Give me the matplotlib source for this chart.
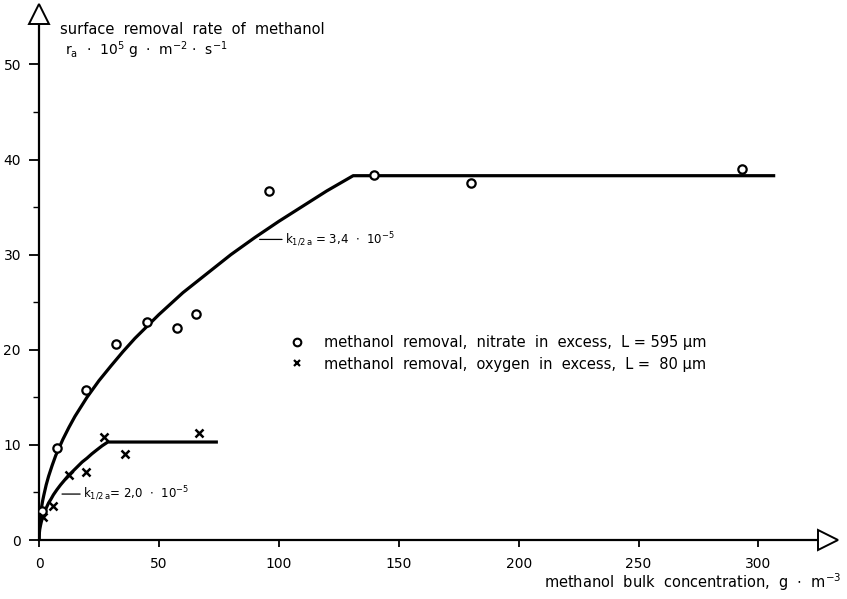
import matplotlib
matplotlib.use("Agg")
import matplotlib.pyplot as plt
from matplotlib.lines import Line2D

# measured points, nitrate in excess (circles)
circle_x = [1.3, 7.5, 19.6, 32, 45, 57.5, 65.5, 96, 139.5, 180, 293]
circle_y = [3.0, 9.7, 15.8, 20.6, 22.9, 22.3, 23.8, 36.7, 38.4, 37.5, 39.0]

# measured points, oxygen in excess (crosses)
cross_x = [1.5, 5.8, 12.7, 19.7, 27, 35.7, 66.8]
cross_y = [2.4, 3.6, 6.8, 7.2, 10.8, 9.0, 11.2]

# half-order curves
curve_a_x = [0, 0.1, 0.3, 0.6, 1, 1.5, 2, 3, 4, 5.5, 7, 8.5, 10, 12.5, 15, 17.5, 20, 25, 30, 35, 40,
             50, 60, 70, 80, 90, 100, 110, 120, 131, 307]
curve_a_y = [0, 1.05, 1.8, 2.6, 3.35, 4.1, 4.7, 5.8, 6.7, 7.85, 8.9, 9.75, 10.6, 11.85, 13.0, 14.0,
             15.0, 16.75, 18.3, 19.8, 21.2, 23.7, 26.0, 28.0, 30.0, 31.8, 33.5, 35.1, 36.7, 38.3, 38.3]
curve_b_x = [0, 0.1, 0.3, 0.6, 1, 1.5, 2, 3, 4, 5, 6, 7.5, 9, 10.5, 12, 14, 16, 18, 20, 22, 24,
             26.3, 28.7, 74.6]
curve_b_y = [0, 0.6, 1.1, 1.5, 1.95, 2.35, 2.75, 3.35, 3.9, 4.3, 4.75, 5.3, 5.8, 6.25, 6.7, 7.2,
             7.7, 8.2, 8.6, 9.05, 9.45, 9.9, 10.3, 10.3]

x_ticks = [0, 50, 100, 150, 200, 250, 300]
y_ticks = [0, 10, 20, 30, 40, 50]

plt.rcParams['font.family'] = ['DejaVu Sans']
plt.rcParams['mathtext.fontset'] = 'dejavusans'

fig = plt.figure(figsize=(8.47, 5.99), dpi=100)
ax = fig.add_axes([39 / 847, 59 / 599, 789 / 847, 526 / 599])
ax.set_xlim(0, 329)
ax.set_ylim(0, 55.3)

for s in ['top', 'right']:
    ax.spines[s].set_visible(False)
for s in ['left', 'bottom']:
    ax.spines[s].set_linewidth(1.6)

ax.set_xticks(x_ticks)
ax.set_yticks(y_ticks)
ax.set_yticks(list(range(5, 55, 10)), minor=True)
ax.tick_params(axis='y', which='major', direction='out', length=7, width=1.3, pad=6, labelsize=10)
ax.tick_params(axis='y', which='minor', direction='out', length=4, width=1.0)
ax.tick_params(axis='x', which='major', direction='out', length=5, width=1.3, pad=7, labelsize=10)

# arrow heads at the axis ends
ax.plot([0], [55.3], marker='^', ms=14, mfc='white', mec='black', mew=1.4, clip_on=False, zorder=5)
ax.plot([329], [0], marker='>', ms=14, mfc='white', mec='black', mew=1.4, clip_on=False, zorder=5)

ax.plot(curve_a_x, curve_a_y, color='black', lw=2.3, solid_capstyle='butt', solid_joinstyle='round')
ax.plot(curve_b_x, curve_b_y, color='black', lw=2.3, solid_capstyle='butt', solid_joinstyle='round')

ax.plot(circle_x, circle_y, ls='none', marker='o', ms=6, mfc='white', mec='black', mew=1.6, zorder=4)
ax.plot(cross_x, cross_y, ls='none', marker='x', ms=6, mec='black', mew=1.8, zorder=4)

ax.annotate(r'k$_{1/2\,\mathrm{a}}$ = 3,4  $\cdot$  10$^{-5}$', xy=(92, 31.6), xytext=(102.5, 31.6),
            va='center', fontsize=8.5, arrowprops=dict(arrowstyle='-', lw=0.9, shrinkA=0, shrinkB=0))
ax.annotate(r'k$_{1/2\,\mathrm{a}}$= 2,0  $\cdot$  10$^{-5}$', xy=(9.6, 4.83), xytext=(18.3, 4.83),
            va='center', fontsize=8.5, arrowprops=dict(arrowstyle='-', lw=0.9, shrinkA=0, shrinkB=0))

handles = [Line2D([], [], ls='none', marker='o', ms=5.5, mfc='white', mec='black', mew=1.5),
           Line2D([], [], ls='none', marker='x', ms=4.5, mec='black', mew=1.6)]
labels = ['methanol  removal,  nitrate  in  excess,  L = 595 \u00b5m',
          'methanol  removal,  oxygen  in  excess,  L =  80 \u00b5m']
ax.legend(handles, labels, loc='upper left', bbox_to_anchor=(290 / 847, 1 - 335 / 599),
          bbox_transform=fig.transFigure, frameon=False, fontsize=10.5, handlelength=1.0,
          handletextpad=1.3, labelspacing=0.45, borderpad=0, borderaxespad=0)

fig.text(60 / 847, 1 - 30 / 599, 'surface  removal  rate  of  methanol', fontsize=10.5, va='center')
fig.text(65 / 847, 1 - 50 / 599, r'r$_\mathrm{a}$  $\cdot$  10$^5$ g  $\cdot$  m$^{-2}$ $\cdot$  s$^{-1}$',
         fontsize=10, va='center')
fig.text(842 / 847, 1 - 582 / 599, r'methanol  bulk  concentration,  g  $\cdot$  m$^{-3}$',
         fontsize=10.5, va='center', ha='right')

fig.savefig('out.png', dpi=100)
